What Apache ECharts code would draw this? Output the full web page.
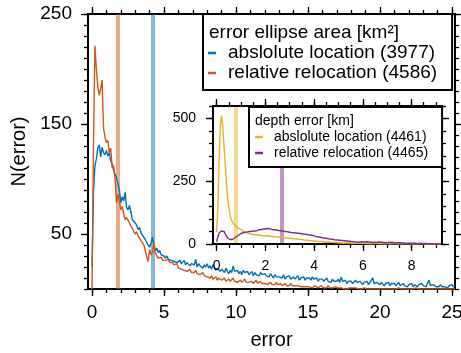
<!DOCTYPE html>
<html>
<head>
<meta charset="UTF-8">
<title>error histogram</title>
<script src="https://cdn.jsdelivr.net/npm/echarts@6/dist/echarts.min.js"></script>
<style>
  html, body { margin: 0; padding: 0; background: #fff; }
  #main { width: 461px; height: 353px; }
</style>
</head>
<body>
<div id="main"></div>
<script>
// ---- data ----
var names = ['abslolute location (3977)', 'relative relocation (4586)',
             'abslolute location (4461)', 'relative relocation (4465)'];
var colors = ['#0072BD', '#D95319', '#EDB120', '#7E2F8E'];

// error ellipse area, bins every 0.1 from 0
var mainStep = 0.1;
var areaAbs = [
  20, 88, 112, 118, 128, 131, 120, 129, 124, 122,
  126, 121, 124, 116, 114, 108, 104, 101, 96, 90,
  78, 84, 80, 88, 74, 72, 76, 70, 63, 62,
  60, 58, 54, 56, 51, 49, 48, 45, 46, 40,
  38, 42, 47, 40, 35, 37, 33, 35, 31, 32,
  30, 28, 30, 27, 28, 26, 27, 25, 26, 24,
  25, 26, 23, 24, 26, 22, 24, 25, 21, 23,
  24, 22, 27, 20, 23, 21, 22, 19, 22, 20,
  23, 19, 21, 18, 22, 20, 17, 19, 18, 16,
  18, 17, 15, 19, 16, 14, 17, 15, 21, 16,
  15, 17, 14, 16, 13, 17, 15, 14, 16, 13,
  14, 16, 12, 15, 13, 14, 12, 15, 13, 12,
  14, 12, 13, 11, 14, 12, 10, 13, 11, 12,
  11, 12, 10, 13, 9, 11, 10, 12, 9, 10,
  11, 9, 10, 12, 8, 10, 9, 11, 8, 10,
  9, 10, 8, 11, 9, 8, 10, 7, 9, 8,
  9, 7, 8, 10, 7, 8, 6, 9, 7, 8,
  7, 9, 6, 11, 7, 6, 8, 5, 7, 6,
  7, 5, 6, 8, 6, 5, 7, 6, 4, 6,
  5, 7, 4, 6, 5, 10, 5, 4, 6, 5,
  4, 6, 5, 3, 5, 4, 6, 3, 5, 4,
  5, 3, 4, 6, 3, 4, 5, 3, 4, 2,
  4, 3, 5, 2, 4, 3, 2, 4, 3, 5,
  3, 4, 2, 3, 8, 3, 2, 4, 3, 2,
  3, 2, 4, 2, 3, 2, 3, 1, 3, 2,
  4, 2, 3
];
var areaRel = [
  0, 130, 221, 200, 184, 176, 182, 190, 146, 138,
  133, 135, 124, 128, 110, 112, 100, 78, 86, 80,
  72, 75, 68, 63, 65, 66, 60, 57, 55, 52,
  50, 52, 48, 46, 45, 42, 40, 35, 29, 25,
  36, 31, 33, 42, 33, 30, 28, 27, 29, 26,
  27, 26, 25, 27, 24, 23, 24, 22, 21, 23,
  19, 20, 18, 19, 17, 18, 16, 17, 18, 15,
  16, 15, 17, 14, 15, 13, 14, 15, 12, 13,
  11, 12, 10, 12, 9, 10, 11, 8, 10, 9,
  8, 9, 10, 7, 8, 9, 7, 8, 10, 7,
  8, 6, 7, 8, 6, 7, 9, 6, 7, 6,
  6, 7, 5, 6, 8, 5, 6, 7, 5, 6,
  5, 6, 4, 5, 6, 4, 5, 4, 6, 4,
  4, 5, 3, 4, 5, 3, 4, 3, 5, 3,
  4, 3, 2, 3, 4, 2, 3, 2, 3, 2,
  3, 2, 3, 1, 2, 3, 2, 1, 2, 3,
  2, 1, 2, 1, 3, 1, 2, 1, 1, 2,
  1, 1, 0, 1, 2, 0, 1, 0, 1, 1,
  0, 1, 0, 1, 0, 0, 1, 0, 0, 1,
  0, 0, 1, 0, 0, 0, 1, 0, 0, 0,
  1, 0, 0, 0, 1, 0, 0, 0, 0, 0,
  0, 0, 0, 1, 0, 0, 0, 0, 1, 0,
  0, 0, 0, 0, 0, 1, 0, 0, 0, 0,
  0, 0, 1, 0, 0, 0, 0, 0, 0, 0,
  0, 0, 0, 0, 1, 0, 0, 0, 0, 0,
  0, 0, 0
];

// depth error, bins every 0.05 from 0
var insetStep = 0.05;
var depthAbs = [
  48, 150, 330, 470, 512, 470, 395, 320, 240, 185,
  145, 115, 96, 88, 80, 78, 70, 66, 62, 64, 58,
  55, 50, 52, 46, 48, 43, 45, 40, 42, 38, 41, 37, 39, 36, 38, 35, 37, 33, 36, 32,
  30, 33, 29, 31, 28, 30, 27, 29, 26, 28, 25, 27, 24, 26, 23, 25, 22, 24, 21, 22,
  20, 22, 19, 21, 18, 20, 17, 19, 16, 18, 15, 16, 14, 15, 13, 14, 12, 13, 11, 12,
  10, 11, 9, 10, 8, 10, 7, 9, 8, 7, 6, 8, 6, 7, 5, 6, 5, 6, 4, 5,
  5, 4, 6, 3, 4, 5, 3, 4, 3, 4, 3, 2, 4, 3, 2, 3, 2, 3, 2, 2,
  3, 2, 1, 2, 3, 1, 2, 1, 2, 3, 1, 2, 1, 1, 2, 1, 2, 1, 1, 2,
  1, 1, 2, 1, 0, 1, 2, 1, 1, 0, 1, 1, 0, 1, 2, 1, 0, 1, 1, 0,
  1, 0, 1, 0, 1, 2, 0, 1, 0, 0, 1, 0, 1, 0, 0, 1, 0, 0, 1, 0,
  0, 0, 1, 0
];
var depthRel = [
  9, 28, 45, 50, 52, 49, 50, 42, 32, 24,
  20, 18, 16, 18, 21, 25, 28, 32, 35, 38, 42,
  44, 46, 47, 50, 48, 52, 50, 53, 51, 54, 52, 56, 53, 55, 57, 54, 58, 56, 60, 57,
  62, 59, 61, 57, 58, 55, 57, 54, 56, 52, 54, 51, 53, 49, 51, 48, 50, 46, 48, 45,
  46, 43, 45, 42, 44, 41, 43, 40, 42, 38, 40, 37, 39, 35, 37, 34, 36, 32, 34, 31,
  30, 28, 29, 26, 27, 24, 25, 22, 24, 21, 22, 19, 20, 18, 19, 16, 17, 15, 16, 14,
  15, 13, 14, 12, 13, 11, 12, 10, 11, 9, 10, 9, 8, 10, 8, 9, 7, 8, 9, 7,
  8, 7, 9, 6, 8, 7, 6, 8, 7, 9, 6, 7, 8, 6, 7, 5, 6, 7, 5, 6,
  6, 5, 7, 4, 6, 5, 4, 6, 5, 4, 5, 3, 4, 5, 3, 4, 3, 4, 3, 2,
  3, 2, 3, 2, 1, 2, 3, 1, 2, 1, 2, 1, 1, 2, 1, 0, 1, 1, 0, 1,
  0, 1, 0, 0
];

// vertical marker lines (abs, rel)
var areaMarks = [4.25, 1.8];
var depthMarks = [0.78, 2.67];

// tick labels
var mainXLabels = [0, 5, 10, 15, 20, 25];
var mainYLabels = [50, 150, 250];
var insetXLabels = [0, 2, 4, 6, 8];
var insetYLabels = [0, 250, 500];

var FONT = 'Liberation Sans';

function range(a, b, s) {
  var out = [];
  for (var v = a; v <= b + 1e-9; v += s) out.push(+v.toFixed(3));
  return out;
}
function pairs(vals, step) {
  return vals.map(function (v, i) { return [+(i * step).toFixed(3), v]; });
}

// four sides of a frame, each with a major and a minor tick axis
function frame(dim, grid, min, max, labels, minor, fs, margin, z, name, nameGap) {
  var sides = dim === 'x' ? ['bottom', 'top'] : ['left', 'right'];
  var out = [];
  sides.forEach(function (pos, si) {
    [labels, minor].forEach(function (vals, k) {
      var ax = {
        type: 'value', gridIndex: grid, position: pos, min: min, max: max, z: z,
        splitLine: { show: false },
        axisLine: { show: true, onZero: false, lineStyle: { color: '#000', width: 2 } },
        axisTick: { show: true, customValues: vals, length: k === 0 ? 7 : 4,
                    lineStyle: { color: '#000', width: 1.3 } },
        axisLabel: { show: false }
      };
      if (si === 0 && k === 0) {
        ax.axisLabel = { show: true, customValues: labels, fontSize: fs, margin: margin,
                         color: '#000', fontFamily: FONT };
        if (name) {
          ax.name = name;
          ax.nameLocation = 'middle';
          ax.nameGap = nameGap;
          ax.nameTextStyle = { fontSize: 20, color: '#000', fontFamily: FONT };
        }
      }
      out.push(ax);
    });
  });
  return out;
}

var chart = echarts.init(document.getElementById('main'));

var xAxes = frame('x', 0, -0.28, 25.21, mainXLabels, range(0, 25, 1), 19, 14, 1, 'error', 41)
  .concat(frame('x', 1, -0.15, 9.25, insetXLabels, range(0, 9, 0.5), 14, 15, 11));
var yAxes = frame('y', 0, 0, 250, mainYLabels, range(0, 250, 10), 19, 16, 1, 'N(error)', 55)
  .concat(frame('y', 1, 0, 550, insetYLabels, range(0, 550, 50), 14, 17, 11));

function markV(x, color, z) {
  return {
    silent: true, symbol: 'none', animation: false, z: z,
    label: { show: false },
    lineStyle: { color: color, width: 4, type: 'solid', opacity: 0.5 },
    data: [{ xAxis: x }]
  };
}
function lineSeries(name, data, color, xi, z, mark) {
  return {
    name: name, type: 'line', data: data, xAxisIndex: xi, yAxisIndex: xi,
    showSymbol: false, symbol: 'none', z: z,
    lineStyle: { color: color, width: 1.4 }, itemStyle: { color: color },
    markLine: markV(mark, color, z - 1)
  };
}

var legendBase = {
  orient: 'vertical', itemGap: 0, itemWidth: 8, itemHeight: 2.5, icon: 'rect',
  borderColor: '#000', borderWidth: 2, borderRadius: 0, backgroundColor: '#fff',
  selectedMode: false
};

var option = {
  animation: false,
  backgroundColor: '#fff',
  grid: [
    { left: 88, top: 14, right: 6, bottom: 64, outerBoundsMode: 'none' },
    { left: 213, top: 106, right: 19, bottom: 109, show: true, backgroundColor: '#fff',
      borderWidth: 0, z: 10, outerBoundsMode: 'none' }
  ],
  xAxis: xAxes,
  yAxis: yAxes,
  title: [
    { text: 'error ellipse area [km²]', left: 209, top: 23, padding: 0, z: 21,
      textStyle: { fontSize: 19, fontWeight: 'normal', lineHeight: 20, color: '#000', fontFamily: FONT } },
    { text: 'depth error [km]', left: 255, top: 113, padding: 0, z: 31,
      textStyle: { fontSize: 14, fontWeight: 'normal', lineHeight: 16, color: '#000', fontFamily: FONT } }
  ],
  legend: [
    Object.assign({}, legendBase, {
      data: [names[0], names[1]], left: 203, top: 14, padding: [29, 15, 7, 5], z: 20,
      textStyle: { fontSize: 19, lineHeight: 20, color: '#000', fontFamily: FONT, padding: [0, 0, 0, 7] }
    }),
    Object.assign({}, legendBase, {
      data: [names[2], names[3]], left: 249, top: 107, padding: [22, 14, 6, 6], z: 30,
      textStyle: { fontSize: 14, lineHeight: 16, color: '#000', fontFamily: FONT, padding: [0, 0, 0, 6] }
    })
  ],
  series: [
    lineSeries(names[0], pairs(areaAbs, mainStep), colors[0], 0, 3, areaMarks[0]),
    lineSeries(names[1], pairs(areaRel, mainStep), colors[1], 0, 3, areaMarks[1]),
    lineSeries(names[2], pairs(depthAbs, insetStep), colors[2], 4, 12, depthMarks[0]),
    lineSeries(names[3], pairs(depthRel, insetStep), colors[3], 4, 12, depthMarks[1])
  ]
};

chart.setOption(option);
</script>
</body>
</html>
